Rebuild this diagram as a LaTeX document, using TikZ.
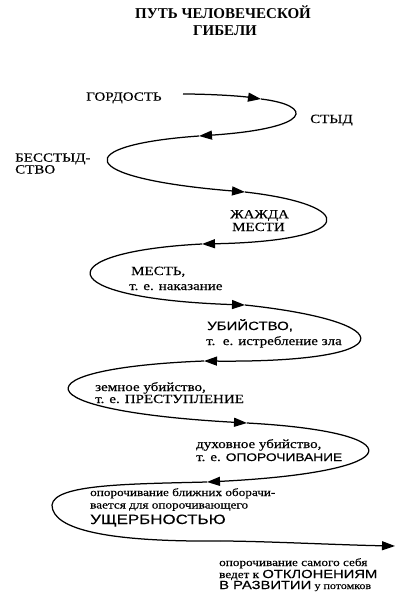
\documentclass[tikz,border=0pt]{standalone}
\usepackage{fontspec}
\setmainfont[FakeStretch=1.2,FakeBold=0.4]{Liberation Serif}
\newfontfamily\sansw[FakeStretch=1.25,FakeBold=0.3]{Liberation Sans}
\newfontfamily\titlef{Liberation Serif}
\usetikzlibrary{arrows.meta}
\begin{document}
\begin{tikzpicture}[x=1pt,y=-1pt,
  curve/.style={line width=1.25pt},
  tipped/.style={-{Triangle[length=13pt,width=9pt]}},
  lbl/.style={inner sep=0pt, anchor=base west, font=\fontsize{12.5}{14}\selectfont},
  sml/.style={inner sep=0pt, anchor=base west, font=\fontsize{11}{13}\selectfont},
  ttl/.style={inner sep=0pt, anchor=base, font=\titlef\fontsize{15}{17}\selectfont\bfseries}]
\useasboundingbox (0,0) rectangle (400,600);
% title
\node[ttl] (t1) at (223,18) {ПУТЬ ЧЕЛОВЕЧЕСКОЙ};
\node[ttl] (t2) at (225,35) {ГИБЕЛИ};
% path points
\coordinate (s0) at (183,94);
\coordinate (a1) at (261,99);
\coordinate (a2) at (199,136);
\coordinate (a3) at (245,192);
\coordinate (a4) at (202,244);
\coordinate (a5) at (245,305);
\coordinate (a6) at (204,361);
\coordinate (a7) at (247,423);
\coordinate (a8) at (207,482);
\coordinate (l4) at (52,505);
\coordinate (b9) at (220,541);
\coordinate (e) at (395,546);
\draw[curve,tipped] (s0) .. controls (210,94) and (240,96) .. (a1);
\draw[curve,tipped] (a1) .. controls (314,105.4) and (314,128.2) .. (a2);
\draw[curve,tipped] (a2) .. controls (71.3,145) and (71.3,177.7) .. (a3);
\draw[curve,tipped] (a3) .. controls (358.8,205) and (358.8,241) .. (a4);
\draw[curve,tipped] (a4) .. controls (48.1,252) and (48.1,298.4) .. (a5);
\draw[curve,tipped] (a5) .. controls (403.8,322) and (403.8,362.7) .. (a6);
\draw[curve,tipped] (a6) .. controls (18.1,368.4) and (18.1,410.3) .. (a7);
\draw[curve,tipped] (a7) .. controls (413.7,432) and (413.7,471.7) .. (a8);
\draw[curve] (a8) .. controls (130,484) and (54,484) .. (l4)
  .. controls (52,530) and (110,542) .. (b9);
\draw[curve,tipped] (b9) .. controls (260,541) and (340,545) .. (e);
% labels
\node[lbl] (g) at (86,100.7) {ГОРДОСТЬ};
\node[lbl] (st) at (310,123) {СТЫД};
\node[lbl] (b1) at (15,161.7) {БЕССТЫД-};
\node[lbl] (b2) at (15,173.5) {СТВО};
\node[lbl] (j1) at (230,218.3) {ЖАЖДА};
\node[lbl] (j2) at (232,231) {МЕСТИ};
\node[lbl] (m1) at (131,275) {МЕСТЬ,};
\node[lbl] (m2) at (129,290) {т. е. наказание};
\node[lbl] (u1) at (207,330) {\sansw\fontsize{12}{14}\selectfont УБИЙСТВО,};
\node[lbl] (u2) at (206,345) {т.~~е. истребление зла};
\node[lbl] (z1) at (95,391) {земное убийство,};
\node[lbl] (z2) at (95,403) {т. е. ПРЕСТУПЛЕНИЕ};
\node[lbl] (d1) at (196,448) {духовное убийство,};
\node[lbl] (d2) at (196,461) {т. е. {\sansw\fontsize{11}{13}\selectfont ОПОРОЧИВАНИЕ}};
\node[sml] (o1) at (90,496) {опорочивание ближних оборачи-};
\node[sml] (o2) at (90,508.5) {вается для опорочивающего};
\node[lbl] (o3) at (90,524) {\sansw\fontsize{13.5}{15}\selectfont УЩЕРБНОСТЬЮ};
\node[sml] (p1) at (219,566) {опорочивание самого себя};
\node[sml] (p2) at (219,578) {ведет к {\sansw\fontsize{11.8}{13}\selectfont ОТКЛОНЕНИЯМ}};
\node[sml] (p3) at (219,589) {{\sansw\fontsize{11.8}{13}\selectfont В РАЗВИТИИ} {\fontsize{10}{12}\selectfont у потомков}};
\end{tikzpicture}
\end{document}
